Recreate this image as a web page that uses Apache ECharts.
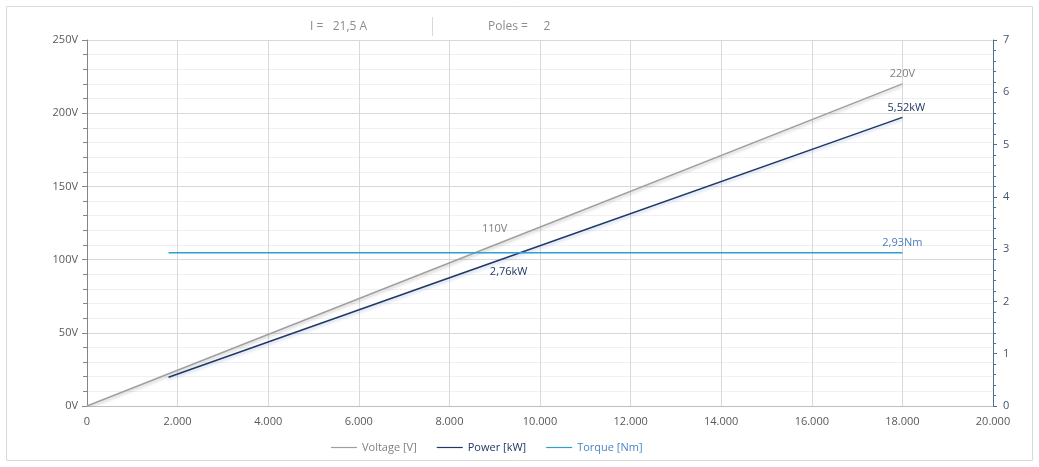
<!DOCTYPE html>
<html><head><meta charset="utf-8">
<script src="https://cdn.jsdelivr.net/npm/echarts@6/dist/echarts.min.js"></script>
<style>html,body{margin:0;padding:0;background:#fff}#c{width:1039px;height:467px}</style>
</head><body><div id="c"></div>
<script>
// Data
const voltageSpeed = [0, 9000, 18000];
const voltage = [0, 110, 220];
const powerSpeed = [1800, 9000, 18000];
const power = [0.55, 2.76, 5.52];
const torqueSpeed = [1800, 18000];
const torque = [2.93, 2.93];
const seriesNames = ['Voltage [V]', 'Power [kW]', 'Torque [Nm]'];
const headerCurrent = 'I =   21,5 A';
const headerPoles = 'Poles =     2';

const FONT = '"Open Sans", sans-serif';
const cVolt = '#a0a0a0', cPow = '#1f3864', cTorq = '#2e9fd3';
const fmtDe = v => String(Math.round(v)).replace(/\B(?=(\d{3})+(?!\d))/g, '.');
const fmtComma = v => v.toFixed(2).replace('.', ',');

const voltData = voltageSpeed.map((x, i) => {
  const d = { value: [x, voltage[i]] };
  if (i > 0) d.label = { show: true, position: 'top', distance: i === 1 ? 10 : 4, formatter: voltage[i] + 'V', color: '#7f7f7f' };
  return d;
});
const powData = powerSpeed.map((x, i) => {
  const d = { value: [x, power[i]] };
  if (i === 1) d.label = { show: true, position: 'bottom', distance: 4, offset: [14, 0], formatter: fmtComma(power[i]) + 'kW', color: cPow };
  if (i === 2) d.label = { show: true, position: 'top', distance: 4, offset: [4, 0], formatter: fmtComma(power[i]) + 'kW', color: cPow };
  return d;
});
const torqData = torqueSpeed.map((x, i) => {
  const d = { value: [x, torque[i]] };
  if (i === torqueSpeed.length - 1) d.label = { show: true, position: 'top', distance: 4, formatter: fmtComma(torque[i]) + 'Nm', color: '#4a7ebb' };
  return d;
});

const shadow = { shadowColor: 'rgba(0,0,0,0.22)', shadowBlur: 3, shadowOffsetY: 2 };
const hiddenSym = { symbol: 'circle', symbolSize: 1, showSymbol: true, showAllSymbol: true };
const clear = 'rgba(0,0,0,0)';

const chart = echarts.init(document.getElementById('c'), null, { renderer: 'canvas' });
chart.setOption({
  animation: false,
  textStyle: { fontFamily: FONT },
  grid: { left: 87, right: 46, top: 40, bottom: 61 },
  graphic: [
    { type: 'rect', shape: { x: 6.5, y: 6.5, width: 1026, height: 454 }, style: { fill: 'none', stroke: '#d9d9d9', lineWidth: 1 }, silent: true },
    { type: 'text', left: 310, top: 21, style: { text: headerCurrent, font: '12px ' + FONT, fill: '#8c8c8c' } },
    { type: 'line', shape: { x1: 432.5, y1: 17, x2: 432.5, y2: 36 }, style: { stroke: '#d9d9d9', lineWidth: 1 } },
    { type: 'text', left: 488, top: 21, style: { text: headerPoles, font: '12px ' + FONT, fill: '#8c8c8c' } }
  ],
  legend: {
    bottom: 9, left: 326, itemWidth: 26, itemHeight: 8, itemGap: 20,
    icon: 'path://M0,3.5H26V4.7H0Z',
    textStyle: { fontSize: 11, fontFamily: FONT },
    data: [
      { name: seriesNames[0], itemStyle: { color: cVolt }, textStyle: { color: '#7f7f7f' } },
      { name: seriesNames[1], itemStyle: { color: cPow }, textStyle: { color: cPow } },
      { name: seriesNames[2], itemStyle: { color: cTorq }, textStyle: { color: '#4a86c5' } }
    ]
  },
  xAxis: {
    type: 'value', min: 0, max: 20000, interval: 2000,
    axisLine: { show: true, lineStyle: { color: '#bfbfbf' } },
    axisTick: { show: false },
    axisLabel: { color: '#595959', fontSize: 11, margin: 10, formatter: fmtDe },
    splitLine: { show: true, lineStyle: { color: '#d9d9d9' } }
  },
  yAxis: [
    {
      type: 'value', min: 0, max: 250, interval: 50, position: 'left',
      axisLine: { show: true, lineStyle: { color: '#868686' } },
      axisTick: { show: true, length: 5, lineStyle: { color: '#868686' } },
      minorTick: { show: true, splitNumber: 5, length: 4, lineStyle: { color: '#868686' } },
      axisLabel: { color: '#595959', fontSize: 11, margin: 9, formatter: v => v + 'V' },
      splitLine: { show: true, lineStyle: { color: '#d9d9d9' } },
      minorSplitLine: { show: true, lineStyle: { color: '#f0f0f0' } }
    },
    {
      type: 'value', min: 0, max: 7, interval: 1, position: 'right',
      axisLine: { show: true, lineStyle: { color: '#4f6f8f' } },
      axisTick: { show: true, length: 4, inside: false, lineStyle: { color: '#4f6f8f' } },
      minorTick: { show: true, splitNumber: 5, length: 3, lineStyle: { color: '#4f6f8f' } },
      axisLabel: { color: '#44546a', fontSize: 11, margin: 10 },
      splitLine: { show: false }
    }
  ],
  series: [
    Object.assign({ name: seriesNames[0], type: 'line', yAxisIndex: 0, data: voltData,
      itemStyle: { color: clear, borderWidth: 0 },
      lineStyle: Object.assign({ width: 1.5, color: cVolt }, shadow), label: { fontSize: 11 } }, hiddenSym),
    Object.assign({ name: seriesNames[1], type: 'line', yAxisIndex: 1, data: powData,
      itemStyle: { color: clear, borderWidth: 0 },
      lineStyle: Object.assign({ width: 1.5, color: cPow }, { shadowColor: 'rgba(90,120,200,0.35)', shadowBlur: 3, shadowOffsetY: 2 }), label: { fontSize: 11 } }, hiddenSym),
    Object.assign({ name: seriesNames[2], type: 'line', yAxisIndex: 1, data: torqData,
      itemStyle: { color: clear, borderWidth: 0 },
      lineStyle: { width: 1.5, color: cTorq }, label: { fontSize: 11 } }, hiddenSym)
  ]
});
</script>
</body></html>
